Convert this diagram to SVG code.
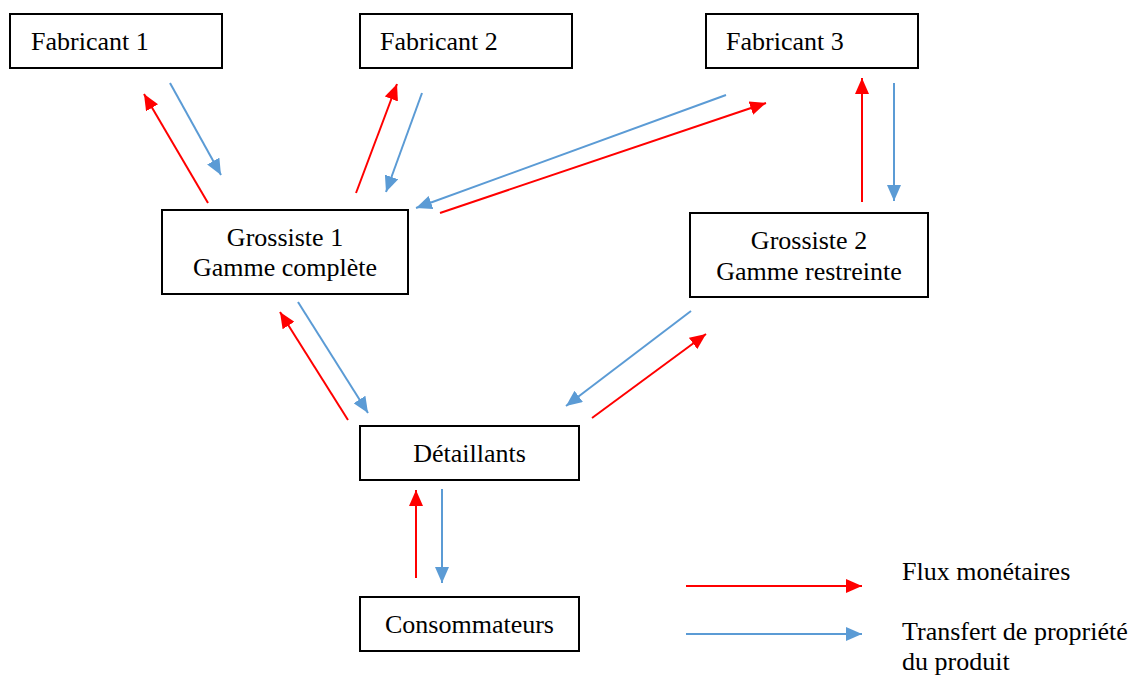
<svg xmlns="http://www.w3.org/2000/svg" width="1136" height="676" viewBox="0 0 1136 676">
<style>
.box{fill:#fff;stroke:#000;stroke-width:2}
.t{font-family:'Liberation Serif','DejaVu Serif',serif;font-size:26px;fill:#000}
.c{text-anchor:middle}
.r{stroke:#FF0000;stroke-width:2;fill:none;marker-end:url(#ar)}
.b{stroke:#5B9BD5;stroke-width:2;fill:none;marker-end:url(#ab)}
</style>
<defs>
<marker id="ar" markerUnits="userSpaceOnUse" markerWidth="16" markerHeight="14" refX="16" refY="7" orient="auto"><path d="M0,0 L16,7 L0,14 z" fill="#FF0000"/></marker>
<marker id="ab" markerUnits="userSpaceOnUse" markerWidth="16" markerHeight="14" refX="16" refY="7" orient="auto"><path d="M0,0 L16,7 L0,14 z" fill="#5B9BD5"/></marker>
</defs>
<rect width="1136" height="676" fill="#fff"/>
<g id="fabricant1"><rect class="box" x="10" y="14" width="212" height="54"/><text class="t" font-family="Liberation Serif" x="31" y="50">Fabricant 1</text></g>
<g id="fabricant2"><rect class="box" x="360" y="14" width="212" height="54"/><text class="t" x="380" y="50">Fabricant 2</text></g>
<g id="fabricant3"><rect class="box" x="706" y="14" width="212" height="54"/><text class="t" x="726" y="50">Fabricant 3</text></g>
<g id="grossiste1"><rect class="box" x="162" y="210" width="246" height="84"/><text class="t c" x="285" y="246">Grossiste 1</text><text class="t c" x="285" y="276">Gamme complète</text></g>
<g id="grossiste2"><rect class="box" x="690" y="213" width="238" height="84"/><text class="t c" x="809" y="249">Grossiste 2</text><text class="t c" x="809" y="280">Gamme restreinte</text></g>
<g id="detaillants"><rect class="box" x="360" y="426" width="219" height="54"/><text class="t c" x="469.5" y="462">Détaillants</text></g>
<g id="consommateurs"><rect class="box" x="360" y="597" width="219" height="54"/><text class="t c" x="469.5" y="633">Consommateurs</text></g>
<g id="connectors">
<line class="r" x1="208" y1="203" x2="144" y2="94"/>
<line class="b" x1="170" y1="83" x2="221" y2="175"/>
<line class="r" x1="356" y1="193" x2="397" y2="84"/>
<line class="b" x1="422" y1="93" x2="386" y2="192"/>
<line class="b" x1="726" y1="95" x2="416" y2="208"/>
<line class="r" x1="440" y1="213" x2="766" y2="103"/>
<line class="r" x1="862" y1="202" x2="862" y2="78"/>
<line class="b" x1="894" y1="83" x2="894" y2="201"/>
<line class="r" x1="348" y1="420" x2="280" y2="312"/>
<line class="b" x1="298" y1="302" x2="368" y2="413"/>
<line class="b" x1="691" y1="311" x2="566" y2="406"/>
<line class="r" x1="592" y1="418" x2="706" y2="334"/>
<line class="r" x1="416" y1="578" x2="416" y2="490"/>
<line class="b" x1="442" y1="489" x2="442" y2="583"/>
</g>
<g id="legend">
<line class="r" x1="686" y1="586" x2="862" y2="586"/>
<line class="b" x1="686" y1="634" x2="862" y2="634"/>
<text class="t" x="902" y="580">Flux monétaires</text>
<text class="t" x="902" y="640">Transfert de propriété</text>
<text class="t" x="902" y="670">du produit</text>
</g>
</svg>
